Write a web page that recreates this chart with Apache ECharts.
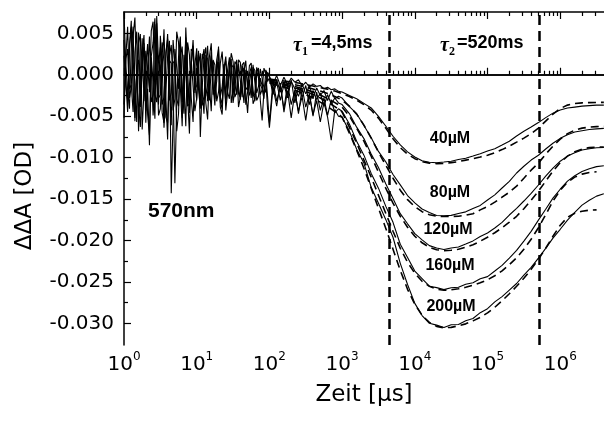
<!DOCTYPE html>
<html><head><meta charset="utf-8">
<script src="https://cdn.jsdelivr.net/npm/echarts@6/dist/echarts.min.js"></script>
<style>html,body{margin:0;padding:0;background:#fff}#c{width:604px;height:421px}</style>
</head><body><div id="c"></div>
<script>
// time axis (µs) for measured traces
const time = [
1.000, 1.059, 1.122, 1.189, 1.259, 1.334, 1.413, 1.496, 1.585, 1.679, 1.778, 1.884, 1.995, 2.113, 2.239, 2.371, 2.512, 2.661, 2.818, 2.985,
3.162, 3.350, 3.548, 3.758, 3.981, 4.217, 4.467, 4.732, 5.012, 5.309, 5.623, 5.957, 6.310, 6.683, 7.079, 7.499, 7.943, 8.414, 8.913, 9.441,
10, 10.59, 11.22, 11.89, 12.59, 13.34, 14.13, 14.96, 15.85, 16.79, 17.78, 18.84, 19.95, 21.13, 22.39, 23.71, 25.12, 26.61, 28.18, 29.85,
31.62, 33.50, 35.48, 37.58, 39.81, 42.17, 44.67, 47.32, 50.12, 53.09, 56.23, 59.57, 63.10, 66.83, 70.79, 74.99, 79.43, 84.14, 89.13, 94.41,
100, 112.2, 125.9, 141.3, 158.5, 177.8, 199.5, 223.9, 251.2, 281.8, 316.2, 354.8, 398.1, 446.7, 501.2, 562.3, 631.0, 707.9, 794.3, 891.3,
1000, 1259, 1585, 1995, 2512, 3162, 3981, 5012, 6310, 7943,
10000, 12590, 15850, 19950, 25120, 31620, 39810, 50120, 63100, 79430,
100000, 125900, 158500, 199500, 251200, 316200, 398100, 501200, 631000, 794300,
1000000, 1259000, 1585000, 1995000, 2512000, 3162000, 3981000];

// time axis (µs) for fit curves
const fitTime = [100, 125.9, 158.5, 199.5, 251.2, 316.2, 398.1, 501.2, 631.0, 794.3,
1000, 1259, 1585, 1995, 2512, 3162, 3981, 5012, 6310, 7943,
10000, 12590, 15850, 19950, 25120, 31620, 39810, 50120, 63100, 79430,
100000, 125900, 158500, 199500, 251200, 316200, 398100, 501200, 631000, 794300,
1000000, 1259000, 1585000, 1995000, 2512000, 3162000, 3981000];

const trace40 = [
0.0042, -0.0012, -0.0031, 0.0036, 0.0065, -0.0024, -0.0052, 0.0009, 0.0018, -0.0039,
0.0027, 0.0048, -0.0044, -0.0017, -0.0085, 0.0021, -0.0008, -0.0053, 0.0071, 0.0014,
0.0033, -0.0036, -0.0027, 0.0019, 0.0049, -0.0008, -0.0061, 0.0042, 0.0012, -0.0029,
-0.0038, 0.0025, -0.0011, -0.0047, 0.0057, 0.0006, -0.0046, 0.0031, 0.0028, -0.0022,
0.0024, -0.0009, -0.0035, 0.0018, 0.0031, -0.0026, -0.0012, 0.0022, 0.0038, -0.0015,
-0.0029, 0.0011, 0.0015, -0.0033, -0.0041, 0.0008, 0.0022, -0.0019, -0.0017, 0.0026,
0.0016, -0.0011, -0.0024, 0.0013, 0.0011, -0.0027, 0.0004, 0.0017, -0.0019, -0.0006,
-0.0028, 0.0009, 0.0005, -0.0022, -0.0014, 0.0007, 0.0009, -0.0016, -0.0021, 0.0003,
0.0002, -0.0011, -0.0001, -0.0013, -0.0003, -0.0012, -0.0004, -0.0009, -0.0006, -0.0014,
-0.0009, -0.0015, -0.0011, -0.0014, -0.0013, -0.0017, -0.0015, -0.0018, -0.0017, -0.0020,
-0.00209, -0.00250, -0.00290, -0.00345, -0.00400, -0.00502, -0.00618, -0.00742, -0.00847, -0.00930,
-0.00992, -0.01038, -0.01056, -0.01061, -0.01053, -0.01043, -0.01023, -0.01007, -0.00981, -0.00953,
-0.00920, -0.00892, -0.00848, -0.00802, -0.00739, -0.00681, -0.00631, -0.00577, -0.00517, -0.00463,
-0.00426, -0.00402, -0.00390, -0.00378, -0.00372, -0.00366, -0.00366];

const trace80 = [
-0.0036, 0.0021, 0.0058, -0.0017, -0.0012, -0.0045, 0.0027, 0.0052, -0.0068, -0.0006,
0.0044, -0.0032, 0.0009, 0.0037, -0.0021, 0.0011, -0.0049, -0.0015, 0.0062, -0.0028,
-0.0024, 0.0039, 0.0015, -0.0051, -0.0058, 0.0023, 0.0036, -0.0014, -0.0131, -0.0037,
0.0021, 0.0046, -0.0033, -0.0009, 0.0045, -0.0026, -0.0071, 0.0017, 0.0018, -0.0044,
-0.0028, 0.0013, 0.0026, -0.0019, -0.0047, 0.0024, 0.0019, -0.0031, 0.0008, 0.0017,
-0.0022, -0.0008, 0.0034, -0.0027, -0.0036, 0.0012, -0.0025, 0.0006, 0.0021, -0.0034,
-0.0019, 0.0016, 0.0012, -0.0023, -0.0027, 0.0004, 0.0008, -0.0018, -0.0015, 0.0011,
0.0014, -0.0026, -0.0023, 0.0009, 0.0002, -0.0012, -0.0017, -0.0029, 0.0006, -0.0008,
-0.0004, -0.0019, -0.0006, -0.0021, -0.0009, -0.0024, -0.0008, -0.0017, -0.0026, -0.0011,
-0.0023, -0.0014, -0.0028, -0.0016, -0.0025, -0.0019, -0.0031, -0.0020, -0.0029, -0.0026,
-0.00281, -0.00385, -0.00470, -0.00612, -0.00760, -0.00925, -0.01050, -0.01203, -0.01328, -0.01457,
-0.01546, -0.01619, -0.01661, -0.01697, -0.01701, -0.01696, -0.01674, -0.01654, -0.01614, -0.01576,
-0.01511, -0.01449, -0.01366, -0.01286, -0.01185, -0.01104, -0.01029, -0.00971, -0.00896, -0.00826,
-0.00767, -0.00723, -0.00691, -0.00675, -0.00661, -0.00653, -0.00647];

const trace120 = [
0.0075, 0.0012, -0.0019, -0.0041, 0.0034, 0.0058, -0.0056, 0.0003, 0.0051, -0.0027,
-0.0029, 0.0033, 0.0016, -0.0048, -0.0073, 0.0022, 0.0039, 0.0068, -0.0011, -0.0036,
0.0047, 0.0014, -0.0064, -0.0022, 0.0022, 0.0041, -0.0143, -0.0054, 0.0031, 0.0009,
-0.0017, 0.0044, -0.0052, -0.0021, 0.0026, -0.0037, -0.0039, 0.0012, 0.0035, -0.0018,
-0.0013, 0.0029, -0.0075, -0.0016, 0.0021, 0.0033, -0.0032, -0.0008, 0.0027, -0.0024,
-0.0018, 0.0016, 0.0011, -0.0039, -0.0048, 0.0007, 0.0017, -0.0021, -0.0029, 0.0013,
0.0009, -0.0027, -0.0021, 0.0018, 0.0015, -0.0013, -0.0034, 0.0006, 0.0004, -0.0025,
-0.0017, 0.0012, 0.0010, -0.0031, -0.0026, -0.0004, -0.0003, -0.0023, -0.0019, 0.0002,
-0.0003, -0.0024, -0.0009, -0.0031, -0.0012, -0.0028, -0.0006, -0.0034, -0.0015, -0.0027,
-0.0013, -0.0036, -0.0019, -0.0030, -0.0022, -0.0038, -0.0024, -0.0035, -0.0028, -0.0034,
-0.00360, -0.00468, -0.00632, -0.00770, -0.00955, -0.01120, -0.01315, -0.01494, -0.01676, -0.01798,
-0.01917, -0.01992, -0.02061, -0.02090, -0.02108, -0.02090, -0.02078, -0.02043, -0.02004, -0.01952,
-0.01908, -0.01849, -0.01781, -0.01692, -0.01612, -0.01523, -0.01431, -0.01330, -0.01224, -0.01126,
-0.01043, -0.00981, -0.00941, -0.00908, -0.00892, -0.00881, -0.00877];

const trace160 = [
-0.0052, 0.0019, 0.0031, -0.0028, -0.0015, 0.0047, 0.0069, -0.0011, -0.0037, -0.0063,
0.0012, 0.0038, -0.0058, 0.0004, 0.0046, -0.0033, -0.0024, 0.0061, 0.0019, -0.0049,
-0.0041, 0.0008, 0.0055, -0.0026, -0.0078, 0.0017, 0.0014, -0.0043, -0.0029, 0.0052,
0.0039, -0.0015, -0.0062, 0.0024, 0.0008, -0.0038, -0.0035, 0.0013, 0.0042, -0.0009,
-0.0031, 0.0022, 0.0016, -0.0037, -0.0026, 0.0009, 0.0035, -0.0013, -0.0044, 0.0018,
0.0012, -0.0032, -0.0021, 0.0014, 0.0028, -0.0008, -0.0033, -0.0016, 0.0007, 0.0019,
-0.0025, -0.0006, 0.0018, -0.0014, -0.0030, 0.0011, 0.0003, -0.0036, -0.0021, 0.0002,
0.0009, -0.0019, -0.0032, 0.0005, -0.0004, -0.0024, -0.0018, 0.0008, 0.0001, -0.0027,
-0.0058, -0.0008, -0.0032, -0.0014, -0.0041, -0.0011, -0.0036, -0.0019, -0.0047, -0.0016,
-0.0039, -0.0023, -0.0050, -0.0021, -0.0043, -0.0028, -0.0049, -0.0030, -0.0046, -0.0041,
-0.00440, -0.00595, -0.00801, -0.00970, -0.01190, -0.01368, -0.01585, -0.01780, -0.02045, -0.02205,
-0.02368, -0.02458, -0.02551, -0.02568, -0.02592, -0.02570, -0.02564, -0.02528, -0.02510, -0.02462,
-0.02435, -0.02368, -0.02300, -0.02212, -0.02119, -0.02006, -0.01889, -0.01754, -0.01623, -0.01488,
-0.01381, -0.01283, -0.01218, -0.01168, -0.01134, -0.01108, -0.01097];

const trace200 = [
0.0023, -0.0008, -0.0045, 0.0031, 0.0057, 0.0016, -0.0011, -0.0057, 0.0038, 0.0049,
-0.0066, -0.0019, 0.0029, 0.0007, -0.0016, 0.0053, 0.0064, -0.0024, -0.0033, 0.0018,
0.0011, -0.0046, -0.0058, 0.0027, 0.0043, -0.0031, -0.0022, 0.0014, 0.0018, -0.0068,
-0.0047, 0.0022, 0.0034, -0.0013, -0.0062, 0.0039, 0.0024, -0.0028, -0.0057, 0.0012,
0.0032, -0.0017, -0.0041, 0.0025, 0.0019, -0.0034, -0.0054, 0.0004, 0.0023, -0.0012,
-0.0037, 0.0018, 0.0031, -0.0026, -0.0015, 0.0013, -0.0043, -0.0021, 0.0016, 0.0009,
-0.0034, -0.0018, 0.0011, -0.0039, -0.0027, 0.0012, 0.0015, -0.0022, -0.0046, -0.0011,
0.0006, -0.0035, -0.0029, 0.0004, 0.0008, -0.0031, -0.0055, -0.0019, -0.0007, -0.0041,
-0.0064, -0.0015, -0.0038, -0.0010, -0.0045, -0.0019, -0.0052, -0.0021, -0.0044, -0.0026,
-0.0055, -0.0024, -0.0048, -0.0031, -0.0057, -0.0033, -0.0051, -0.0079, -0.0042, -0.0050,
-0.00512, -0.00680, -0.00898, -0.01065, -0.01358, -0.01550, -0.01745, -0.01960, -0.02275, -0.02530,
-0.02758, -0.02905, -0.02998, -0.03020, -0.03048, -0.03015, -0.03012, -0.02968, -0.02940, -0.02870,
-0.02822, -0.02740, -0.02676, -0.02597, -0.02518, -0.02417, -0.02324, -0.02212, -0.02095, -0.01970,
-0.01864, -0.01754, -0.01659, -0.01573, -0.01514, -0.01464, -0.01435];

const fit40 = [
-0.00052, -0.00064, -0.00076, -0.00088, -0.00100, -0.00118, -0.00136, -0.00155, -0.00173, -0.00197,
-0.00227, -0.00263, -0.00306, -0.00360, -0.00426, -0.00523, -0.00644, -0.00771, -0.00879, -0.00958,
-0.01012, -0.01048, -0.01066, -0.01072, -0.01070, -0.01060, -0.01048, -0.01030, -0.01012, -0.00992,
-0.00970, -0.00940, -0.00903, -0.00861, -0.00813, -0.00764, -0.00710, -0.00644, -0.00559, -0.00475,
-0.00408, -0.00366, -0.00348, -0.00339, -0.00336, -0.00335, -0.00333];

const fit80 = [
-0.00064, -0.00076, -0.00094, -0.00112, -0.00130, -0.00149, -0.00173, -0.00197, -0.00227, -0.00263,
-0.00306, -0.00378, -0.00475, -0.00607, -0.00764, -0.00934, -0.01091, -0.01248, -0.01392, -0.01507,
-0.01592, -0.01652, -0.01688, -0.01707, -0.01710, -0.01710, -0.01707, -0.01694, -0.01676, -0.01630,
-0.01590, -0.01537, -0.01477, -0.01417, -0.01344, -0.01248, -0.01151, -0.01066, -0.00958, -0.00861,
-0.00777, -0.00710, -0.00668, -0.00644, -0.00632, -0.00626, -0.00623];

const fit120 = [
-0.00076, -0.00094, -0.00112, -0.00130, -0.00155, -0.00179, -0.00209, -0.00245, -0.00287, -0.00336,
-0.00390, -0.00499, -0.00644, -0.00801, -0.00982, -0.01175, -0.01368, -0.01549, -0.01707, -0.01839,
-0.01948, -0.02027, -0.02081, -0.02111, -0.02121, -0.02117, -0.02105, -0.02081, -0.02051, -0.02008,
-0.01960, -0.01906, -0.01845, -0.01779, -0.01707, -0.01616, -0.01513, -0.01405, -0.01284, -0.01163,
-0.01060, -0.00982, -0.00928, -0.00897, -0.00879, -0.00873, -0.00871];

const fit160 = [
-0.00088, -0.00106, -0.00124, -0.00149, -0.00173, -0.00203, -0.00239, -0.00281, -0.00330, -0.00384,
-0.00450, -0.00632, -0.00825, -0.01030, -0.01235, -0.01453, -0.01670, -0.01888, -0.02093, -0.02262,
-0.02395, -0.02492, -0.02552, -0.02588, -0.02600, -0.02594, -0.02582, -0.02564, -0.02540, -0.02510,
-0.02473, -0.02425, -0.02365, -0.02292, -0.02208, -0.02105, -0.01984, -0.01845, -0.01688, -0.01525,
-0.01392, -0.01296, -0.01235, -0.01199, -0.01179, -0.01171];

const fit200 = [
-0.00100, -0.00124, -0.00149, -0.00173, -0.00203, -0.00239, -0.00281, -0.00330, -0.00384, -0.00444,
-0.00511, -0.00704, -0.00909, -0.01127, -0.01368, -0.01610, -0.01851, -0.02105, -0.02359, -0.02588,
-0.02769, -0.02902, -0.02987, -0.03035, -0.03053, -0.03047, -0.03029, -0.03005, -0.02969, -0.02926,
-0.02872, -0.02805, -0.02727, -0.02642, -0.02552, -0.02455, -0.02347, -0.02226, -0.02093, -0.01948,
-0.01815, -0.01719, -0.01670, -0.01646, -0.01634, -0.01630];

const concLabels = ['40µM', '80µM', '120µM', '160µM', '200µM'];
const tauTimes = [4500, 520000];      // τ1 = 4,5 ms, τ2 = 520 ms in µs
const xMajor = [1, 10, 100, 1000, 10000, 100000, 1000000];
const xMinor = [2,3,4,5,6,7,8,9, 20,30,40,50,60,70,80,90, 200,300,400,500,600,700,800,900,
  2000,3000,4000,5000,6000,7000,8000,9000, 20000,30000,40000,50000,60000,70000,80000,90000,
  200000,300000,400000,500000,600000,700000,800000,900000, 2000000,3000000];
const yMajor = [0.005, 0, -0.005, -0.010, -0.015, -0.020, -0.025, -0.030];
const yMinor = [0.0025, -0.0025, -0.0075, -0.0125, -0.0175, -0.0225, -0.0275];

const X_MIN = 1, X_MAX = 4000000, Y_MIN = -0.0326, Y_MAX = 0.00757;
const pairs = (xs, ys) => ys.map((v, i) => [xs[i], v]);
const traces = [trace40, trace80, trace120, trace160, trace200];
const fits = [fit40, fit80, fit120, fit160, fit200];

const chart = echarts.init(document.getElementById('c'), null, {renderer: 'canvas'});

function xAx(pos, vals, len, showLine, labels) {
  return {
    type: 'log', logBase: 10, min: X_MIN, max: X_MAX, position: pos,
    axisLine: {show: showLine, lineStyle: {color: '#000', width: 1.5}},
    axisTick: {show: true, inside: true, length: len, customValues: vals, lineStyle: {color: '#000', width: 1.2}},
    axisLabel: labels ? {
      show: true, customValues: vals, margin: 6,
      formatter: v => '{b|10}{s|' + Math.round(Math.log10(v)) + '}',
      rich: {
        b: {fontFamily: 'DejaVu Sans', fontSize: 20, color: '#000', padding: [4, 0, 0, 0]},
        s: {fontFamily: 'DejaVu Sans', fontSize: 12, color: '#000', verticalAlign: 'top'}
      }
    } : {show: false},
    splitLine: {show: false}, minorTick: {show: false}
  };
}
function yAx(vals, len, showLine, labels) {
  return {
    type: 'value', min: Y_MIN, max: Y_MAX, position: 'left',
    axisLine: {show: showLine, lineStyle: {color: '#000', width: 1.5}},
    axisTick: {show: true, inside: true, length: len, customValues: vals, lineStyle: {color: '#000', width: 1.2}},
    axisLabel: labels ? {
      show: true, customValues: vals, margin: 10,
      fontFamily: 'DejaVu Sans', fontSize: 20, color: '#000',
      formatter: v => v.toFixed(3)
    } : {show: false},
    splitLine: {show: false}
  };
}

const series = [];
traces.forEach((t, i) => {
  series.push({
    type: 'line', name: 'trace ' + concLabels[i], data: pairs(time, t),
    xAxisIndex: 0, yAxisIndex: 0, showSymbol: false, symbol: 'none', smooth: false,
    lineStyle: {color: '#000', width: 1.1}, silent: true, animation: false, z: 3
  });
});
fits.forEach((f, i) => {
  series.push({
    type: 'line', name: 'fit ' + concLabels[i], data: pairs(fitTime, f),
    xAxisIndex: 0, yAxisIndex: 0, showSymbol: false, symbol: 'none',
    lineStyle: {color: '#000', width: 1.6, type: [8, 5]}, silent: true, animation: false, z: 4
  });
});
series[0].markLine = {
  silent: true, symbol: ['none', 'none'], label: {show: false}, animation: false,
  data: [
    {xAxis: tauTimes[0], lineStyle: {color: '#000', width: 2.5, type: [10, 6]}},
    {xAxis: tauTimes[1], lineStyle: {color: '#000', width: 2.5, type: [10, 6]}},
    {yAxis: 0, lineStyle: {color: '#000', width: 1.5, type: 'solid'}}
  ]
};

const txt = (x, y, text, font, align, extra) => Object.assign({
  type: 'text', x: x, y: y, silent: true,
  style: {text: text, font: font, fill: '#000', align: align, verticalAlign: 'middle',
          textAlign: align, textVerticalAlign: 'middle'}
}, extra || {});

const labelFont = 'bold 16px "Liberation Sans"';
const graphic = [
  txt(25, 196, 'ΔΔA [OD]', '23px "DejaVu Sans"', 'center', {rotation: Math.PI / 2}),
  txt(364, 395, 'Zeit [µs]', '23px "DejaVu Sans"', 'center'),
  txt(148, 211, '570nm', 'bold 21px "Liberation Sans"', 'left'),
  txt(450, 138.5, concLabels[0], labelFont, 'center'),
  txt(450, 193, concLabels[1], labelFont, 'center'),
  txt(448, 230, concLabels[2], labelFont, 'center'),
  txt(450, 266, concLabels[3], labelFont, 'center'),
  txt(451, 306.5, concLabels[4], labelFont, 'center'),
  txt(293, 46, 'τ', 'italic bold 20px "Liberation Serif"', 'left'),
  txt(302, 51.5, '1', 'bold 12px "Liberation Serif"', 'left'),
  txt(311, 43.5, '=4,5ms', 'bold 18px "Liberation Sans"', 'left'),
  txt(440, 46, 'τ', 'italic bold 20px "Liberation Serif"', 'left'),
  txt(449, 51.5, '2', 'bold 12px "Liberation Serif"', 'left'),
  txt(457, 43.5, '=520ms', 'bold 18px "Liberation Sans"', 'left')
];

chart.setOption({
  animation: false,
  backgroundColor: '#fff',
  grid: {left: 124, right: 0, top: 12, bottom: 76, containLabel: false, outerBoundsMode: 'none'},
  xAxis: [
    xAx('bottom', xMajor, 7, true, true),
    xAx('bottom', xMinor, 4, false, false),
    xAx('top', xMajor, 7, true, false),
    xAx('top', xMinor, 4, false, false)
  ],
  yAxis: [
    yAx(yMajor, 7, true, true),
    yAx(yMinor, 4, false, false)
  ],
  series: series,
  graphic: graphic
});
</script>
</body></html>
